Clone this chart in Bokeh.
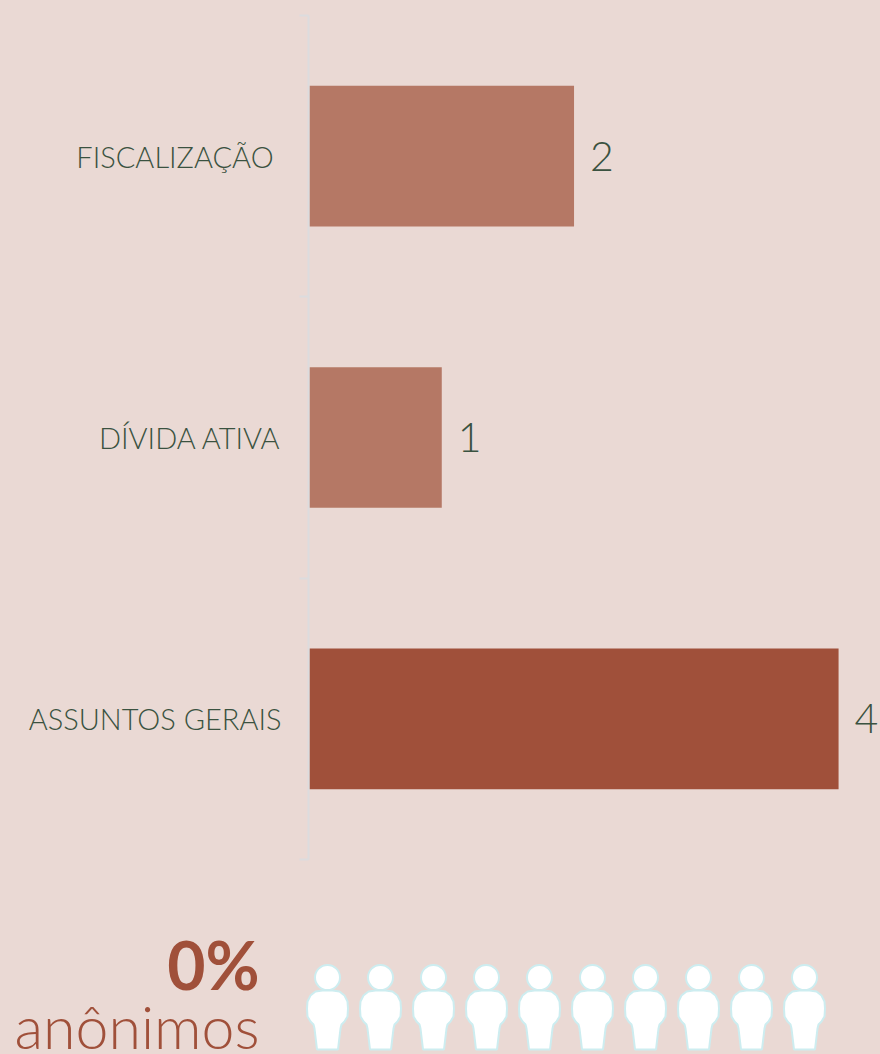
from bokeh.plotting import figure
from bokeh.embed import file_html
from bokeh.resources import INLINE
from bokeh.layouts import column
from bokeh.models import ColumnDataSource, Range1d, LinearAxis, FixedTicker, Label
from bokeh.core.properties import value

categories = ["ASSUNTOS GERAIS", "DÍVIDA ATIVA", "FISCALIZAÇÃO "]
counts = [4, 1, 2]
bar_colors = ["#A0503A", "#B57865", "#B57865"]
anon_pct = "0%"
anon_word = "anônimos"
people = list(range(10))

BG = "#EAD9D4"
GREEN = "#3A5240"
RUST = "#A0503A"
FONT = "Lato Light, Lato"
AXIS = "#DCDCDE"

UNIT = 132.5
band_centers = [i + 0.5 for i in range(len(categories))]
edges = list(range(len(categories) + 1))
p = figure(width=880, height=870, output_backend="svg", toolbar_location=None,
           x_range=Range1d(-1 / UNIT, 572 / UNIT),
           y_range=Range1d(0, len(categories)),
           x_axis_location=None, y_axis_location=None,
           min_border_left=308, min_border_right=0, min_border_top=15, min_border_bottom=11,
           background_fill_color=None, border_fill_color=None, outline_line_color=None,
           frame_align=False)
p.grid.visible = False

# tick-only axis, on the band boundaries
edge = LinearAxis(ticker=FixedTicker(ticks=edges),
                  major_label_overrides={e: "" for e in edges}, major_label_standoff=0,
                  axis_line_color=AXIS, axis_line_width=2,
                  major_tick_line_color=AXIS, major_tick_line_width=2,
                  major_tick_out=9, major_tick_in=0, minor_tick_out=0, minor_tick_in=0)
p.add_layout(edge, "left")

labels = LinearAxis(ticker=FixedTicker(ticks=band_centers),
                    major_label_overrides=dict(zip(band_centers, categories)),
                    axis_line_color=None, major_tick_line_color=None, major_tick_out=0,
                    major_tick_in=0, minor_tick_out=0, minor_tick_in=0, major_label_standoff=18,
                    major_label_text_color=GREEN, major_label_text_font=FONT,
                    major_label_text_font_size="29px")
p.add_layout(labels, "left")

src = ColumnDataSource(dict(y=band_centers, n=counts, color=bar_colors,
                            txt=[str(c) for c in counts]))
p.hbar(y="y", right="n", left=0, height=0.5, fill_color="color", line_color=None, source=src)
p.text(x="n", y="y", text="txt", source=src, x_offset=16, text_color=GREEN,
       text_font=value(FONT), text_font_size="41px", text_align="left", text_baseline="middle")

# pictogram row
PITCH = 53.0
q = figure(width=880, height=184, output_backend="svg", toolbar_location=None,
           x_range=Range1d(-327 / PITCH, 553 / PITCH), y_range=Range1d(1054, 870),
           x_axis_location=None, y_axis_location=None,
           min_border_left=0, min_border_right=0, min_border_top=0, min_border_bottom=0,
           background_fill_color=None, border_fill_color=None, outline_line_color=None,
           frame_align=False)
q.grid.visible = False

body_dx = [-12, -5, 5, 12, 17, 20, 20.5, 20, 17, 14, 13, 10.5, -10.5, -13, -14, -17, -20, -20.5, -20, -17]
body_y = [991, 990, 990, 991, 995, 1001, 1008, 1016, 1021, 1024, 1028, 1049, 1049, 1028, 1024, 1021, 1016, 1008, 1001, 995]
xs = [[i + d / PITCH for d in body_dx] for i in people]
ys = [body_y for _ in people]
q.patches(xs, ys, fill_color="white", line_color="#CDEDF0", line_width=2)
q.circle(x=people, y=[977] * len(people), radius=12.5 / PITCH, fill_color="white",
         line_color="#CDEDF0", line_width=2)

q.add_layout(Label(x=259, y=51, x_units="screen", y_units="screen", text=anon_pct,
                   text_align="right", text_baseline="bottom", text_color=RUST,
                   text_font="Lato", text_font_style="bold", text_font_size="66px"))
q.add_layout(Label(x=259, y=-7, x_units="screen", y_units="screen", text=anon_word,
                   text_align="right", text_baseline="bottom", text_color=RUST,
                   text_font=FONT, text_font_size="59px"))

root = column(p, q, spacing=0,
              styles={"position": "absolute", "left": "0px", "top": "0px", "background-color": BG})
open("out.html", "w").write(file_html(root, INLINE))
